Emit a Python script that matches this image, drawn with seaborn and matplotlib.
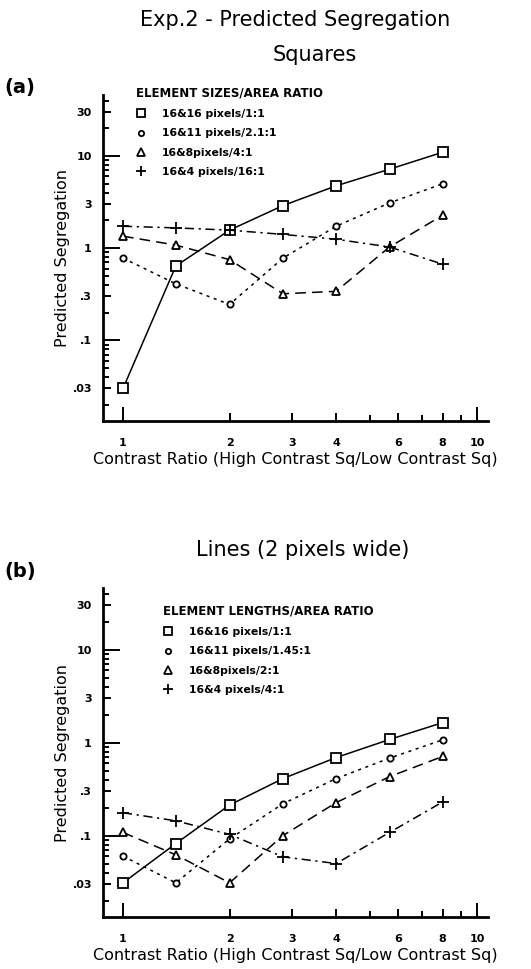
import numpy as np
import pandas as pd
import seaborn as sns
import matplotlib
matplotlib.use("Agg")
import matplotlib.pyplot as plt
from matplotlib.lines import Line2D
from matplotlib.ticker import FixedLocator, FixedFormatter, NullFormatter

# contrast ratios (x) shared by both panels
ratios = [1, 1.41, 2, 2.83, 4, 5.66, 8]

# panel (a) squares
sq_a = [0.03, 0.64, 1.57, 2.9, 4.75, 7.2, 11.0]
ci_a = [0.78, 0.41, 0.245, 0.78, 1.73, 3.1, 5.0]
tr_a = [1.35, 1.08, 0.75, 0.32, 0.34, 1.03, 2.28]
pl_a = [1.73, 1.66, 1.57, 1.41, 1.25, 1.03, 0.67]
labels_a = ["16&16 pixels/1:1", "16&11 pixels/2.1:1", "16&8pixels/4:1", "16&4 pixels/16:1"]

# panel (b) lines
sq_b = [0.031, 0.082, 0.213, 0.41, 0.69, 1.08, 1.64]
ci_b = [0.060, 0.031, 0.092, 0.22, 0.41, 0.68, 1.07]
tr_b = [0.108, 0.062, 0.031, 0.10, 0.226, 0.43, 0.71]
pl_b = [0.176, 0.144, 0.103, 0.059, 0.050, 0.108, 0.23]
labels_b = ["16&16 pixels/1:1", "16&11 pixels/1.45:1", "16&8pixels/2:1", "16&4 pixels/4:1"]

xticks = [1, 2, 3, 4, 6, 8, 10]
yticks = [0.03, 0.1, 0.3, 1, 3, 10, 30]
ytick_labels = [".03", ".1", ".3", "1", "3", "10", "30"]

sns.set_style("ticks")
plt.rcParams['font.family'] = ['DejaVu Sans']
for k in ["text.color", "axes.labelcolor", "xtick.color", "ytick.color", "axes.edgecolor"]:
    plt.rcParams[k] = "black"

markers = ["s", "o", "^", "+"]
msizes = [7, 4.5, 6, 8]
dashes = ["-", (0, (2.0, 3.0)), (0, (7, 4)), (0, (6, 3, 1.5, 3))]

W, H = 531, 969
fig = plt.figure(figsize=(W / 100, H / 100), dpi=100)


def box(l, t, r, b):
    return [l / W, 1 - b / H, (r - l) / W, (b - t) / H]


def panel(ax, series, labels, title, lx, ly):
    for vals, m, ms, ls in zip(series, markers, msizes, dashes):
        df = pd.DataFrame({"ratio": ratios, "seg": vals})
        sns.lineplot(data=df, x="ratio", y="seg", ax=ax, color="black", lw=1.1,
                     linestyle=ls, marker=m, markersize=ms, markerfacecolor="white",
                     markeredgecolor="black", markeredgewidth=1.3)
    ax.set_xscale("log")
    ax.set_yscale("log")
    ax.set_xlim(0.878, 10.74)
    ax.set_ylim(0.0133, 46)
    ax.xaxis.set_major_locator(FixedLocator(xticks))
    ax.xaxis.set_major_formatter(FixedFormatter([str(t) for t in xticks]))
    ax.xaxis.set_minor_locator(FixedLocator([5, 7, 9]))
    ax.xaxis.set_minor_formatter(NullFormatter())
    ax.yaxis.set_major_locator(FixedLocator(yticks))
    ax.yaxis.set_major_formatter(FixedFormatter(ytick_labels))
    ax.yaxis.set_minor_locator(FixedLocator(
        [s * d for d in [0.01, 0.1, 1, 10] for s in [2, 4, 5, 6, 7, 8, 9]]))
    ax.yaxis.set_minor_formatter(NullFormatter())
    ax.tick_params(which="both", direction="in", width=1.4, labelsize=8)
    ax.tick_params(axis="x", which="major", length=6, pad=12)
    ax.tick_params(axis="y", which="major", length=6, pad=8)
    ax.tick_params(which="minor", length=4)
    for lab in ax.get_xticklabels() + ax.get_yticklabels():
        lab.set_fontweight("bold")
    for t, v in zip(ax.yaxis.get_major_ticks(), yticks):
        if v in (0.1, 1, 10):
            t.tick1line.set_markersize(12)
    for t, v in zip(ax.xaxis.get_major_ticks(), xticks):
        if v in (1, 10):
            t.tick1line.set_markersize(10)
    sns.despine(ax=ax)
    for s in ["left", "bottom"]:
        ax.spines[s].set_linewidth(2)
    ax.set_xlabel("Contrast Ratio (High Contrast Sq/Low Contrast Sq)", fontsize=11.5, labelpad=3)
    ax.set_ylabel("Predicted Segregation", fontsize=11.5, labelpad=2)
    handles = [Line2D([], [], color="black", marker=m, markersize=ms * 0.85, linestyle="none",
                      markerfacecolor="white", markeredgewidth=1.3)
               for m, ms in zip(markers, msizes)]
    leg = ax.legend(handles, labels, title=title, loc="upper left",
                    bbox_to_anchor=(lx / W, 1 - ly / H), bbox_transform=fig.transFigure,
                    frameon=False, handlelength=1.0, handletextpad=1.4,
                    labelspacing=0.85, borderpad=0, borderaxespad=0,
                    prop={"weight": "bold", "size": 7.8},
                    title_fontproperties={"weight": "bold", "size": 8.5})
    leg._legend_box.align = "left"


ax_a = fig.add_axes(box(103, 95, 488, 421))
panel(ax_a, [sq_a, ci_a, tr_a, pl_a], labels_a, "ELEMENT SIZES/AREA RATIO", 136, 87)

ax_b = fig.add_axes(box(103, 588, 488, 917))
panel(ax_b, [sq_b, ci_b, tr_b, pl_b], labels_b, "ELEMENT LENGTHS/AREA RATIO", 163, 605)

fig.text(295 / W, 1 - 20 / H, "Exp.2 - Predicted Segregation", ha="center", va="center", fontsize=15)
fig.text(315 / W, 1 - 55 / H, "Squares", ha="center", va="center", fontsize=15)
fig.text(303 / W, 1 - 550 / H, "Lines (2 pixels wide)", ha="center", va="center", fontsize=15)
fig.text(4 / W, 1 - 88 / H, "(a)", ha="left", va="center", fontsize=14, fontweight="bold")
fig.text(4 / W, 1 - 571 / H, "(b)", ha="left", va="center", fontsize=14, fontweight="bold")

fig.savefig("out.png", dpi=100)
